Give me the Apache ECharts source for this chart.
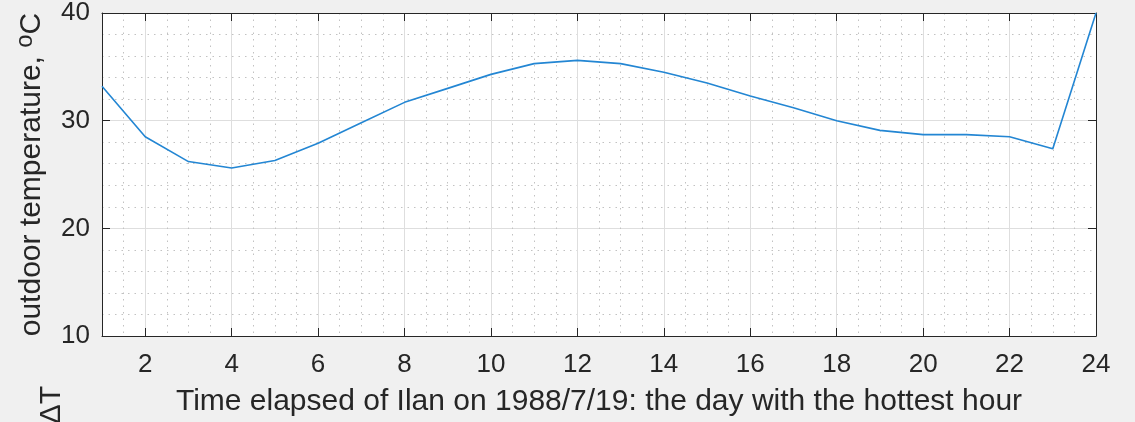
<!DOCTYPE html>
<html>
<head>
<meta charset="utf-8">
<script src="https://cdn.jsdelivr.net/npm/echarts@6/dist/echarts.min.js"></script>
<style>
  html, body { margin: 0; padding: 0; background: #f0f0f0; }
  #chart { width: 1135px; height: 422px; }
</style>
</head>
<body>
<div id="chart"></div>
<script>
// Hourly outdoor temperature at Ilan, 1988/7/19
const hours = [1, 2, 3, 4, 5, 6, 7, 8, 9, 10, 11, 12, 13, 14, 15, 16, 17, 18, 19, 20, 21, 22, 23, 24];
const temperature = [33.2, 28.5, 26.2, 25.6, 26.3, 27.9, 29.8, 31.7, 33.0, 34.3, 35.3, 35.6,
                     35.3, 34.5, 33.5, 32.3, 31.2, 30.0, 29.1, 28.7, 28.7, 28.5, 27.4, 40.0];
const xTicks = [2, 4, 6, 8, 10, 12, 14, 16, 18, 20, 22, 24];
const yTicks = [10, 20, 30, 40];

const FONT = '"Liberation Sans", Arial, Helvetica, sans-serif';
const INK = '#262626';
const MAJOR_GRID = '#dedede';
const MINOR_GRID = '#c2c2c2';

// minor x grid: every half hour that is not a major tick
const xMinor = [];
for (let v = 1.5; v < 24; v += 0.5) {
  if (xTicks.indexOf(v) < 0) xMinor.push(v);
}

const chart = echarts.init(document.getElementById('chart'), null, { renderer: 'canvas' });

const xRange = { type: 'value', min: 1, max: 24, gridIndex: 0 };

chart.setOption({
  backgroundColor: '#f0f0f0',
  animation: false,
  grid: { left: 102, right: 39, top: 11, bottom: 84, show: true,
          backgroundColor: '#ffffff', borderWidth: 0 },
  xAxis: [
    Object.assign({}, xRange, {
      interval: 1,
      position: 'bottom',
      name: 'Time elapsed of Ilan on 1988/7/19: the day with the hottest hour',
      nameLocation: 'middle',
      nameGap: 51,
      nameTextStyle: { fontFamily: FONT, fontSize: 30, color: INK },
      axisLine: { show: true, onZero: false, lineStyle: { color: INK, width: 1 } },
      axisTick: { show: true, inside: true, length: 8, customValues: xTicks,
                  lineStyle: { color: INK, width: 1 } },
      axisLabel: { show: true, customValues: xTicks, margin: 16,
                   fontFamily: FONT, fontSize: 26, color: INK },
      splitLine: { show: true, lineStyle: { color: MAJOR_GRID, width: 1 } }
    }),
    // dotted minor grid
    Object.assign({}, xRange, {
      interval: 0.5,
      position: 'bottom',
      axisLine: { show: false },
      axisTick: { show: false, customValues: xMinor },
      axisLabel: { show: false },
      splitLine: { show: true, lineStyle: { color: MINOR_GRID, width: 1, type: [1.5, 5] } }
    }),
    // top box edge
    Object.assign({}, xRange, {
      interval: 1,
      position: 'top',
      axisLine: { show: true, onZero: false, lineStyle: { color: INK, width: 1 } },
      axisTick: { show: true, inside: true, length: 8, customValues: xTicks,
                  lineStyle: { color: INK, width: 1 } },
      axisLabel: { show: false },
      splitLine: { show: false }
    })
  ],
  yAxis: [
    {
      type: 'value', min: 10, max: 40, interval: 10,
      position: 'left',
      name: '{n|outdoor temperature, }{s|o}{n|C}',
      nameLocation: 'middle',
      nameRotate: 90,
      nameGap: 50,
      nameTextStyle: {
        fontFamily: FONT, fontSize: 30, color: INK,
        rich: {
          n: { fontFamily: FONT, fontSize: 30, color: INK, lineHeight: 32 },
          s: { fontFamily: FONT, fontSize: 24, color: INK, lineHeight: 24, padding: [0, 0, 13, 0] }
        }
      },
      axisLine: { show: true, onZero: false, lineStyle: { color: INK, width: 1 } },
      axisTick: { show: true, inside: true, length: 8, lineStyle: { color: INK, width: 1 } },
      axisLabel: { show: true, margin: 12, fontFamily: FONT, fontSize: 26, color: INK,
                   padding: [4, 0, 0, 0], customValues: yTicks },
      splitLine: { show: true, lineStyle: { color: MAJOR_GRID, width: 1 } },
      minorTick: { show: false, splitNumber: 5 },
      minorSplitLine: { show: true, lineStyle: { color: MINOR_GRID, width: 1, type: [1.5, 5] } }
    },
    {
      type: 'value', min: 10, max: 40, interval: 10,
      position: 'right',
      axisLine: { show: true, onZero: false, lineStyle: { color: INK, width: 1 } },
      axisTick: { show: true, inside: true, length: 8, lineStyle: { color: INK, width: 1 } },
      axisLabel: { show: false },
      splitLine: { show: false }
    }
  ],
  graphic: [
    {
      type: 'text',
      x: 52,
      y: 386,
      rotation: Math.PI / 2,
      style: {
        text: '\u0394T',
        fontFamily: FONT,
        fontSize: 30,
        fill: INK,
        align: 'right',
        verticalAlign: 'middle'
      }
    }
  ],
  series: [
    {
      type: 'line',
      xAxisIndex: 0,
      yAxisIndex: 0,
      data: hours.map((h, i) => [h, temperature[i]]),
      showSymbol: false,
      symbol: 'none',
      lineStyle: { color: '#2386d3', width: 1.6 },
      clip: true,
      z: 5
    }
  ]
});
</script>
</body>
</html>
